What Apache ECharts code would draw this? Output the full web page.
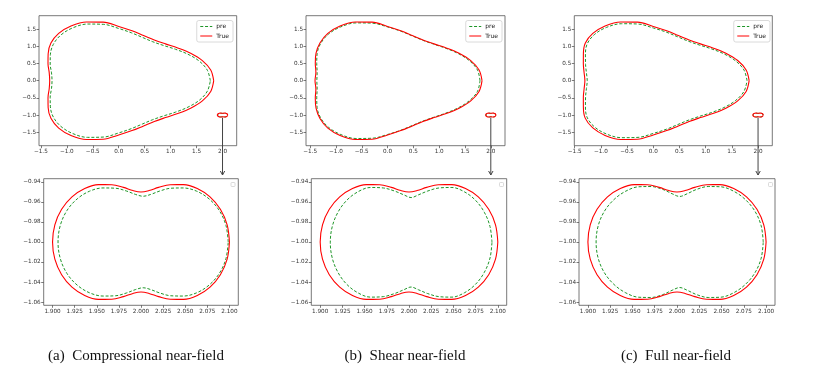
<!DOCTYPE html>
<html>
<head>
<meta charset="utf-8">
<script src="https://cdn.jsdelivr.net/npm/echarts@6/dist/echarts.min.js"></script>
<style>
  html, body { margin: 0; padding: 0; background: #fff; }
  #main { width: 818px; height: 372px; }
</style>
</head>
<body>
<div id="main"></div>
<script>
// polar samples (upper half, mirrored about the centre line)
var angles = [0, 10, 20, 30, 40, 50, 60, 70, 80, 90, 100, 110, 120, 130, 140, 150, 160, 170, 180];

// big obstacle, centre (0, 0)
var trueBigA = [1.83, 1.80, 1.715, 1.60, 1.485, 1.40, 1.37, 1.40, 1.475, 1.58, 1.73, 1.82, 1.84, 1.80, 1.705, 1.57, 1.45, 1.36, 1.33];
var preBigA  = [1.765, 1.735, 1.655, 1.54, 1.425, 1.34, 1.31, 1.34, 1.415, 1.52, 1.665, 1.755, 1.775, 1.735, 1.645, 1.52, 1.405, 1.315, 1.285];
var trueBigB = [1.83, 1.80, 1.715, 1.60, 1.485, 1.40, 1.37, 1.40, 1.475, 1.58, 1.73, 1.82, 1.84, 1.80, 1.71, 1.60, 1.49, 1.41, 1.405];
var preBigB  = [1.79, 1.77, 1.69, 1.58, 1.47, 1.39, 1.36, 1.39, 1.465, 1.565, 1.70, 1.79, 1.81, 1.775, 1.69, 1.575, 1.46, 1.385, 1.37];
var trueBigC = [1.83, 1.80, 1.715, 1.60, 1.485, 1.40, 1.37, 1.40, 1.475, 1.58, 1.73, 1.82, 1.84, 1.795, 1.695, 1.54, 1.42, 1.34, 1.305];
var preBigC  = [1.79, 1.76, 1.675, 1.56, 1.445, 1.36, 1.33, 1.36, 1.435, 1.535, 1.675, 1.765, 1.79, 1.75, 1.65, 1.495, 1.375, 1.295, 1.26];

// small obstacle (peanut) near (2, -1)
var trueSmallCenter = [2.0, -1.0];
var trueSmall  = [0.1000, 0.0989, 0.0955, 0.0901, 0.0831, 0.0748, 0.0661, 0.0581, 0.0522, 0.0500, 0.0522, 0.0581, 0.0661, 0.0748, 0.0831, 0.0901, 0.0955, 0.0989, 0.1000];
var preSmallCenterA = [2.0024, -1.0];
var preSmallA  = [0.0962, 0.0951, 0.0917, 0.0861, 0.0790, 0.0705, 0.0620, 0.0541, 0.0482, 0.0457, 0.0482, 0.0541, 0.0620, 0.0705, 0.0790, 0.0861, 0.0917, 0.0951, 0.0962];
var preSmallCenterB = [2.0024, -1.0003];
var preSmallB  = [0.0910, 0.0902, 0.0877, 0.0838, 0.0784, 0.0715, 0.0627, 0.0545, 0.0482, 0.0447, 0.0482, 0.0545, 0.0627, 0.0715, 0.0784, 0.0838, 0.0877, 0.0902, 0.0910];
var preSmallCenterC = [2.003, -1.0];
var preSmallC  = [0.0938, 0.0929, 0.0899, 0.0850, 0.0790, 0.0720, 0.0640, 0.0560, 0.0490, 0.0455, 0.0490, 0.0560, 0.0640, 0.0720, 0.0790, 0.0850, 0.0899, 0.0929, 0.0938];

// tick labels
var topXTicks = [-1.5, -1.0, -0.5, 0.0, 0.5, 1.0, 1.5, 2.0];
var topYTicks = [-1.5, -1.0, -0.5, 0.0, 0.5, 1.0, 1.5];
var zoomXTicks = [1.900, 1.925, 1.950, 1.975, 2.000, 2.025, 2.050, 2.075, 2.100];
var zoomYTicks = [-1.06, -1.04, -1.02, -1.00, -0.98, -0.96, -0.94];

var captions = ['(a)  Compressional near-field', '(b)  Shear near-field', '(c)  Full near-field'];

// axis limits (matplotlib auto margins)
var topXRange = [[-1.536, 2.273], [-1.580, 2.275], [-1.507, 2.272]];
var topYRange = [-1.892, 1.892];
var zoomXRange = [1.89, 2.11];
var zoomYRange = [-1.06325, -0.93675];

function ring(center, radii) {
    var pts = [];
    for (var i = 0; i < angles.length; i++) {
        var t = angles[i] * Math.PI / 180;
        pts.push([center[0] + radii[i] * Math.cos(t), center[1] + radii[i] * Math.sin(t)]);
    }
    for (var j = angles.length - 2; j >= 0; j--) {
        var s = angles[j] * Math.PI / 180;
        pts.push([center[0] + radii[j] * Math.cos(s), center[1] - radii[j] * Math.sin(s)]);
    }
    return pts;
}

function fmt(digits) {
    return function (v) { return (Math.abs(v) < 1e-9 ? 0 : v).toFixed(digits).replace('-', '\u2212'); };
}

var panels = [
    { trueBig: trueBigA, preBig: preBigA, preC: preSmallCenterA, preS: preSmallA },
    { trueBig: trueBigB, preBig: preBigB, preC: preSmallCenterB, preS: preSmallB },
    { trueBig: trueBigC, preBig: preBigC, preC: preSmallCenterC, preS: preSmallC }
];

var topGrids = [
    { left: 39, top: 15.7, width: 197.7, height: 130 },
    { left: 306, top: 15.7, width: 199, height: 130 },
    { left: 574.3, top: 15.7, width: 198, height: 130 }
];
var zoomGrids = [
    { left: 43.7, top: 178.7, width: 194.6, height: 126.6 },
    { left: 311.3, top: 178.7, width: 195.4, height: 126.6 },
    { left: 579, top: 178.7, width: 196, height: 126.6 }
];
var legendRight = [585, 316, 48];
var emptyLegendBox = [[231, 182.5], [499.5, 182.5], [768.5, 182.5]];
var captionX = [136, 405, 676];

var RED = '#ff0000', GREEN = '#1e9628';
var labelFont = { fontSize: 5.7, color: '#333', fontFamily: 'DejaVu Sans', margin: 3 };

function axis(gi, range, ticks, digits) {
    return {
        type: 'value', gridIndex: gi, min: range[0], max: range[1],
        axisLine: { show: false, onZero: false },
        splitLine: { show: false },
        axisTick: { show: true, length: 2.5, customValues: ticks, lineStyle: { color: '#444', width: 0.7 } },
        axisLabel: Object.assign({ customValues: ticks, formatter: fmt(digits) }, labelFont)
    };
}

var grid = [], xAxis = [], yAxis = [], series = [], legend = [];
topGrids.concat(zoomGrids).forEach(function (g) {
    grid.push(Object.assign({ show: true, borderColor: '#555', borderWidth: 0.8, backgroundColor: 'transparent' }, g));
});
for (var p = 0; p < 3; p++) {
    xAxis.push(axis(p, topXRange[p], topXTicks, 1));
    yAxis.push(axis(p, topYRange, topYTicks, 1));
}
for (var q = 0; q < 3; q++) {
    xAxis.push(axis(q + 3, zoomXRange, zoomXTicks, 3));
    yAxis.push(axis(q + 3, zoomYRange, zoomYTicks, 2));
}

function curve(name, gi, data) {
    var isTrue = name === 'True';
    return {
        type: 'line', name: name, xAxisIndex: gi, yAxisIndex: gi, data: data,
        symbol: 'none', showSymbol: false, smooth: 0.35, animation: false,
        z: isTrue ? 3 : 2,
        lineStyle: isTrue ? { color: RED, width: 1.1 } : { color: GREEN, width: 1, type: [3, 1.8] },
        itemStyle: { color: isTrue ? RED : GREEN }
    };
}

panels.forEach(function (pn, i) {
    series.push(curve('pre', i, ring([0, 0], pn.preBig)));
    series.push(curve('True', i, ring([0, 0], pn.trueBig)));
    series.push(curve('pre', i, ring(pn.preC, pn.preS)));
    series.push(curve('True', i, ring(trueSmallCenter, trueSmall)));
    series.push(curve('pre', i + 3, ring(pn.preC, pn.preS)));
    series.push(curve('True', i + 3, ring(trueSmallCenter, trueSmall)));
    legend.push({
        data: ['pre', 'True'], orient: 'vertical', right: legendRight[i], top: 20.5,
        itemWidth: 12, itemHeight: 5, itemGap: 3.5, padding: [3, 4, 3, 3],
        borderColor: '#d0d0d0', borderWidth: 0.8, borderRadius: 2, backgroundColor: '#fff',
        selectedMode: false,
        itemStyle: { opacity: 0 },
        lineStyle: { width: 1 },
        textStyle: { fontSize: 6, color: '#222', fontFamily: 'DejaVu Sans', padding: [0, 0, 0, -1] }
    });
});

var myChart = echarts.init(document.getElementById('main'));
myChart.setOption({
    animation: false,
    backgroundColor: '#fff',
    grid: grid, xAxis: xAxis, yAxis: yAxis, legend: legend, series: series
});

// arrows from the small obstacle down to its close-up, plus captions
var graphic = [];
for (var k = 0; k < 3; k++) {
    var start = myChart.convertToPixel({ gridIndex: k }, [2.0, -1.06]);
    var topOfZoom = myChart.convertToPixel({ gridIndex: k + 3 }, [2.0, zoomYRange[1]])[1];
    var x = start[0], tip = topOfZoom - 3.7;
    graphic.push({ type: 'line', z: 50, shape: { x1: x, y1: start[1] + 0.5, x2: x, y2: tip }, style: { stroke: '#444', lineWidth: 1 } });
    graphic.push({ type: 'polyline', z: 50, shape: { points: [[x - 2.2, tip - 4], [x, tip], [x + 2.2, tip - 4]] }, style: { stroke: '#444', lineWidth: 1, fill: null } });
    graphic.push({ type: 'rect', z: 50, shape: { x: emptyLegendBox[k][0], y: emptyLegendBox[k][1], width: 4, height: 4, r: 0.8 }, style: { stroke: '#d0d0d0', lineWidth: 0.8, fill: '#fff' } });
    graphic.push({
        type: 'text', z: 50, x: captionX[k], y: 356,
        style: { text: captions[k], font: '15px "Liberation Serif"', fill: '#111', align: 'center', verticalAlign: 'middle', textAlign: 'center', textVerticalAlign: 'middle' }
    });
}
myChart.setOption({ graphic: graphic });
</script>
</body>
</html>
